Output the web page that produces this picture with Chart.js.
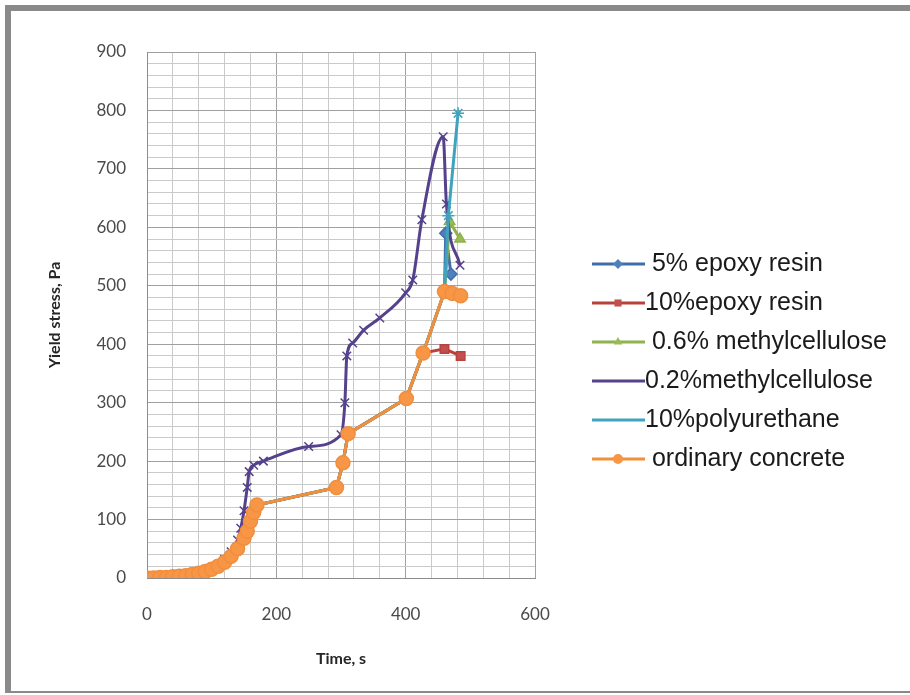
<!DOCTYPE html>
<html>
<head>
<meta charset="utf-8">
<script src="https://cdn.jsdelivr.net/npm/chart.js@4.4.0/dist/chart.umd.min.js"></script>
<style>
    html, body { margin: 0; padding: 0; background: #fff; }
    #wrap { position: relative; width: 910px; height: 695px; overflow: hidden; }
    #frame {
        position: absolute; left: 5px; top: 5px; width: 920px; height: 688px;
        border-top: 6px solid #8a8a8a; border-left: 6px solid #8a8a8a; border-bottom: 2px solid #8a8a8a;
        box-sizing: border-box;
    }
    #chart { position: absolute; left: 0; top: 0; }
</style>
</head>
<body>
<div id="wrap">
    <div id="frame"></div>
    <canvas id="chart" width="910" height="695"></canvas>
</div>
<script>
// shared part of the curves (all mixtures except 0.2% methylcellulose)
const baseTime   = [0, 10, 20, 30, 40, 50, 60, 70, 80, 90, 100, 110, 120, 130, 140, 150, 155, 160, 165, 170, 293, 303, 311, 401, 427];
const baseStress = [0, 0, 1, 1, 2, 3, 4, 6, 8, 11, 15, 20, 27, 37, 50, 68, 80, 97, 112, 125, 155, 197, 247, 307, 385];

// end of each curve
const epoxy5Time = [460, 462, 470];
const epoxy5Stress = [490, 590, 520];
const epoxy10Time = [460, 485];
const epoxy10Stress = [392, 380];
const mc06Time = [460, 468, 484];
const mc06Stress = [490, 610, 580];
const pu10Time = [460, 466, 481];
const pu10Stress = [490, 620, 795];
const concreteTime = [460, 472, 485];
const concreteStress = [490, 487, 483];

// 0.2% methylcellulose has its own path
const mc02Time   = [0, 20, 40, 60, 80, 100, 110, 120, 130, 140, 145, 150, 155, 158, 165, 180, 250, 300, 306, 309, 318, 335, 360, 400, 411, 425, 458, 463, 484];
const mc02Stress = [0, 1, 3, 6, 10, 17, 23, 32, 45, 65, 85, 115, 155, 182, 193, 200, 225, 245, 300, 380, 402, 424, 445, 488, 510, 613, 755, 640, 535];

const seriesNames = [' 5% epoxy resin', '10%epoxy resin', ' 0.6% methylcellulose', '0.2%methylcellulose', '10%polyurethane', ' ordinary concrete'];

function toPoints(t, y) {
    return t.map((v, i) => ({ x: v, y: y[i] }));
}

function withBase(t, y) {
    return toPoints(baseTime.concat(t), baseStress.concat(y));
}

function makeSeries(label, points, line, fill, style, order, smooth) {
    return {
        label,
        data: points,
        showLine: true,
        borderColor: line,
        backgroundColor: fill,
        pointBackgroundColor: fill,
        pointBorderColor: line,
        pointStyle: style,
        pointRadius: style === 'circle' ? 7 : 6,
        pointBorderWidth: 1.5,
        borderWidth: 3,
        tension: smooth ? 0.4 : 0,
        cubicInterpolationMode: smooth ? 'monotone' : 'default',
        order
    };
}

const lineLegend = {
    id: 'lineLegend',
    afterDraw(chart) {
        const ctx = chart.ctx;
        chart.data.datasets.forEach((ds, i) => {
            const y = 264 + i * 39;
            ctx.save();
            ctx.strokeStyle = ds.borderColor;
            ctx.lineWidth = 3;
            ctx.beginPath();
            ctx.moveTo(592, y);
            ctx.lineTo(645, y);
            ctx.stroke();
            ctx.fillStyle = ds.pointBackgroundColor;
            ctx.strokeStyle = ds.pointBorderColor;
            ctx.lineWidth = 1.5;
            Chart.helpers.drawPoint(ctx, { pointStyle: ds.pointStyle, radius: 5, rotation: 0 }, 618, y);
            ctx.fillStyle = '#1a1a1a';
            ctx.font = '25px "Liberation Sans", Arial, sans-serif';
            ctx.textBaseline = 'middle';
            ctx.textAlign = 'left';
            ctx.fillText(ds.label, 645, y);
            ctx.restore();
        });
    }
};

const ctx = document.getElementById('chart').getContext('2d');
new Chart(ctx, {
    type: 'scatter',
    data: {
        datasets: [
            makeSeries(seriesNames[0], withBase(epoxy5Time, epoxy5Stress), '#3f6fa8', '#4F81BD', 'rectRot', 6, false),
            makeSeries(seriesNames[1], withBase(epoxy10Time, epoxy10Stress), '#b9403d', '#C0504D', 'rect', 5, false),
            makeSeries(seriesNames[2], withBase(mc06Time, mc06Stress), '#8fb24c', '#9BBB59', 'triangle', 4, false),
            makeSeries(seriesNames[3], toPoints(mc02Time, mc02Stress), '#55418c', '#8064A2', 'crossRot', 3, true),
            makeSeries(seriesNames[4], withBase(pu10Time, pu10Stress), '#3fa3c0', '#4BACC6', 'star', 2, false),
            makeSeries(seriesNames[5], withBase(concreteTime, concreteStress), '#f28e3c', '#F79646', 'circle', 1, false)
        ]
    },
    options: {
        responsive: false,
        animation: false,
        layout: { padding: { left: 0, top: 52, right: 375, bottom: 0 } },
        plugins: {
            legend: { display: false },
            tooltip: { enabled: false }
        },
        scales: {
            x: {
                type: 'linear',
                min: 0,
                max: 600,
                afterFit(scale) { scale.height = 117; },
                ticks: {
                    stepSize: 40,
                    autoSkip: false,
                    maxRotation: 0,
                    padding: 26,
                    color: '#4a4a4a',
                    font: { family: 'Lato', size: 17 },
                    callback: v => (v % 200 === 0 ? v : '')
                },
                grid: {
                    drawTicks: false,
                    color: c => (c.tick && c.tick.value % 200 === 0 ? '#a0a0a0' : '#cacaca')
                },
                border: { color: '#8c8c8c' },
                title: {
                    display: true,
                    text: 'Time, s',
                    color: '#262626',
                    font: { family: 'Lato', size: 16, weight: 'bold' },
                    padding: { top: 0, bottom: 27 }
                }
            },
            y: {
                min: 0,
                max: 900,
                afterFit(scale) { scale.width = 147; },
                ticks: {
                    stepSize: 20,
                    autoSkip: false,
                    padding: 21,
                    color: '#4a4a4a',
                    font: { family: 'Lato', size: 17 },
                    callback: v => (v % 100 === 0 ? v : '')
                },
                grid: {
                    drawTicks: false,
                    color: c => (c.tick && c.tick.value % 100 === 0 ? '#a0a0a0' : '#cacaca')
                },
                border: { color: '#8c8c8c' },
                title: {
                    display: true,
                    text: 'Yield stress, Pa',
                    color: '#262626',
                    font: { family: 'Lato', size: 16, weight: 'bold' },
                    padding: { top: 45, bottom: 0 }
                }
            }
        }
    },
    plugins: [lineLegend]
});
</script>
</body>
</html>
